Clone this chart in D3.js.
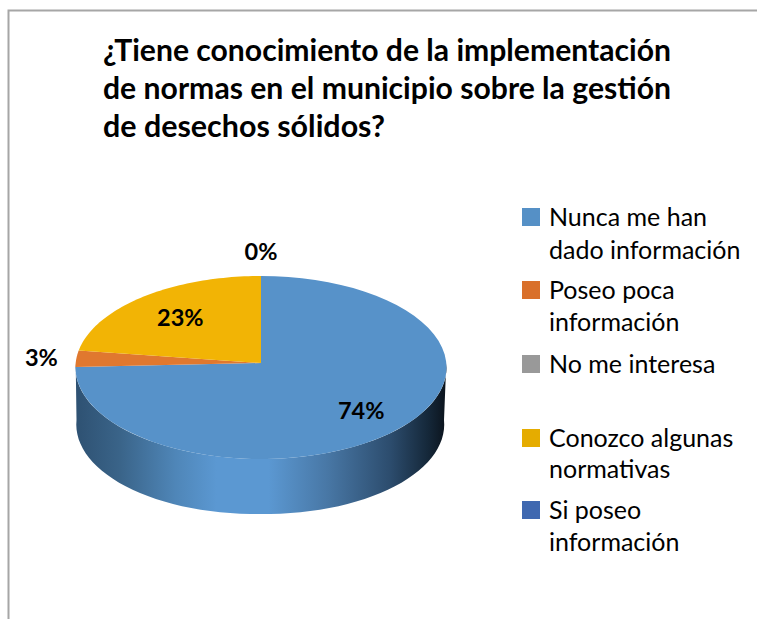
<!DOCTYPE html>
<html><head><meta charset="utf-8">
<script src="https://cdn.jsdelivr.net/npm/d3@7"></script>
<style>html,body{margin:0;padding:0;background:#fff}svg{display:block}text{font-family:Lato,"Noto Sans",sans-serif;fill:#000}</style>
</head><body><svg id="c" width="757" height="619"></svg>
<script>
const categories = ["Nunca me han dado información","Poseo poca información","No me interesa","Conozco algunas normativas","Si poseo información"];
const values = [74.3, 2.9, 0, 22.8, 0];
const valueLabels = ["74%","3%",null,"23%","0%"];
const colors = ["#5792c9","#e0782f","#999999","#f2b405","#3f68b0"];
const legendColors = ["#5590c6","#d9702b","#999999","#e5ac00","#3f68b0"];
const legendLines = [["Nunca me han","dado información"],["Poseo poca","información"],["No me interesa"],["Conozco algunas","normativas"],["Si poseo","información"]];
const titleLines = ["¿Tiene conocimiento de la implementación","de normas en el municipio sobre la gestión","de desechos sólidos?"];

const svg = d3.select("#c");
// frame
svg.append("path").attr("d","M8.5,619V10.5H757").attr("fill","none").attr("stroke","#a6a6a6").attr("stroke-width",2);

// title
const titleBase=[61,99,137], titleLen=[568,568,282];
svg.selectAll(".t").data(titleLines).join("text").attr("class","t")
  .attr("x",103).attr("y",(d,i)=>titleBase[i]).attr("font-size",30).attr("font-weight",700)
  .attr("textLength",(d,i)=>titleLen[i]).attr("lengthAdjust","spacingAndGlyphs").text(d=>d);

// pie with a perspective projection
const cx=261, cy=363, Rx=185.3, A=91.3, k=0.049, depth=55;
const arcs = d3.pie().value(d=>d).sort(null)(values);
const proj=(a,r=1)=>{const u=r*Math.sin(a),v=-r*Math.cos(a),w=1-k*v;return [cx+Rx*u/w, cy+A*v/w];};
const lowX=d3.scaleLinear().domain([cx-Rx,cx+Rx]).range([cx-184.5,cx+183]);
const projLow=a=>{const p=proj(a);return [lowX(p[0]),p[1]+depth+2*Math.abs(Math.sin(a))];};
const line=d3.line();
const sample=(a0,a1)=>d3.range(0,61).map(i=>a0+(a1-a0)*i/60);

// side wall
const defs=svg.append("defs");
const g=defs.append("linearGradient").attr("id","side").attr("gradientUnits","userSpaceOnUse")
  .attr("x1",cx-Rx).attr("x2",cx+Rx).attr("y1",0).attr("y2",0);
[[0,"#2e5172"],[0.12,"#3a6489"],[0.27,"#4f86b8"],[0.38,"#5b98d2"],[0.52,"#5b98d2"],[0.68,"#4877a5"],[0.85,"#2c4c6d"],[0.95,"#15283a"],[1,"#0b131c"]]
  .forEach(s=>g.append("stop").attr("offset",s[0]).attr("stop-color",s[1]));
const front=sample(Math.PI/2,3*Math.PI/2);
const wall=[...front.map(a=>proj(a)),...front.slice().reverse().map(projLow)];
svg.append("path").attr("d",line(wall)+"Z").attr("fill","url(#side)");

// top face
svg.selectAll(".s").data(arcs.filter(a=>a.endAngle>a.startAngle)).join("path").attr("class","s")
  .attr("d",d=>line([[cx,cy],...sample(d.startAngle,d.endAngle).map(a=>proj(a))])+"Z")
  .attr("fill",d=>colors[d.index]);

// value labels
const labelR=[0.73,1.19,1,0.68,1.3];
svg.selectAll(".v").data(arcs.filter(a=>valueLabels[a.index])).join("text").attr("class","v")
  .attr("transform",d=>{const p=proj((d.startAngle+d.endAngle)/2,labelR[d.index]);return `translate(${p[0]},${p[1]})`;})
  .attr("text-anchor","middle").attr("dy","0.36em").attr("font-size",23.5).attr("font-weight",700)
  .text(d=>valueLabels[d.index]);

// legend
const legY=[226,299,373,447,519], lineGap=[33,32,0,31,32];
const leg=svg.selectAll(".l").data(categories).join("g").attr("class","l");
leg.append("rect").attr("x",522).attr("y",(d,i)=>legY[i]-18).attr("width",18).attr("height",18).attr("fill",(d,i)=>legendColors[i]);
leg.each(function(d,i){
  d3.select(this).selectAll("text").data(legendLines[i]).join("text")
    .attr("x",549).attr("y",(t,j)=>legY[i]+j*lineGap[i]).attr("font-size",25).text(t=>t);
});
</script></body></html>
